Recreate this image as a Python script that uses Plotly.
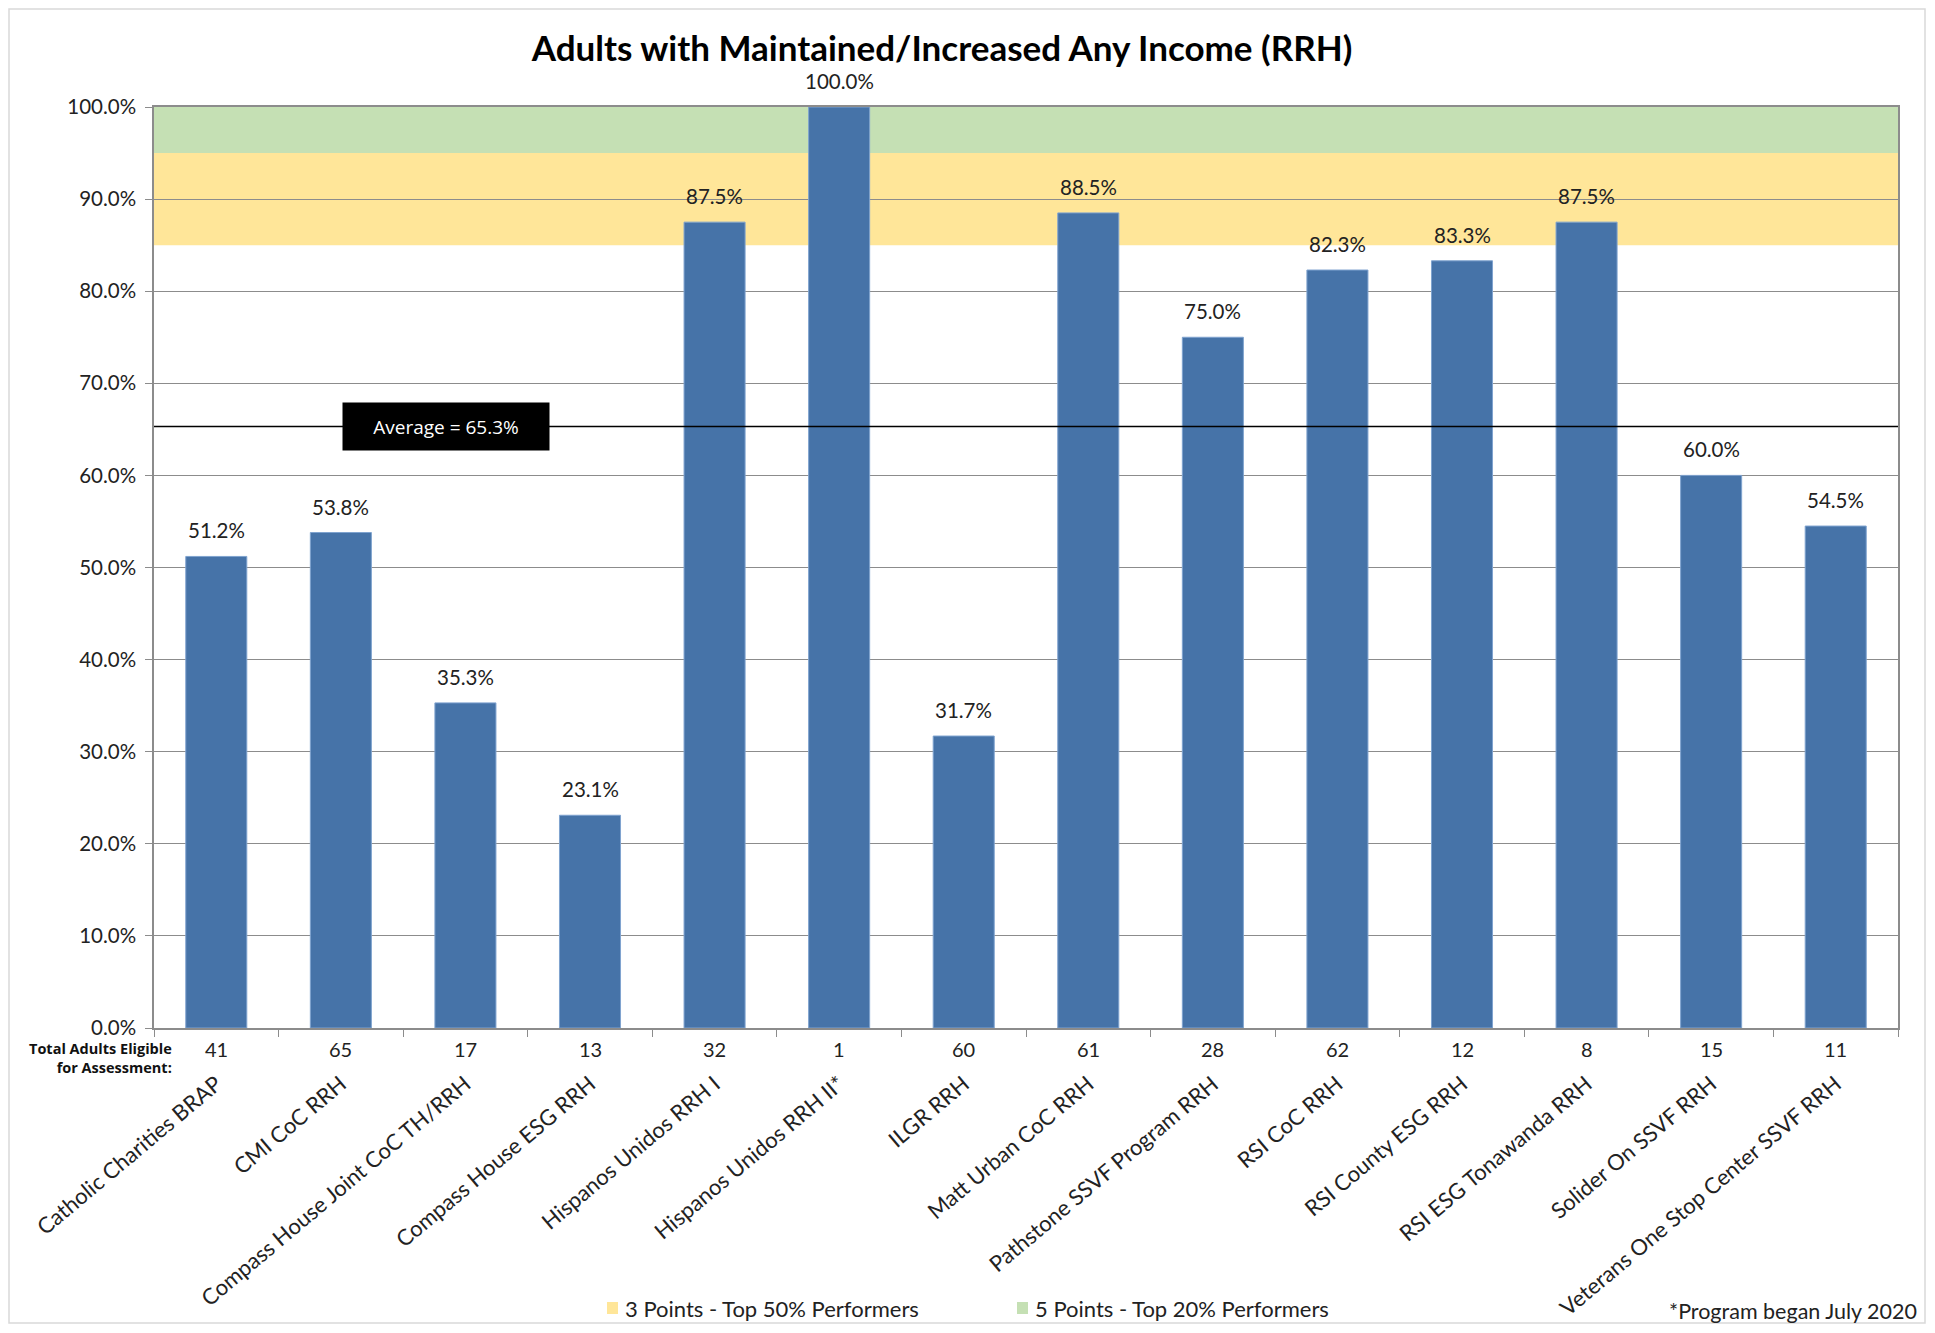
import plotly.graph_objects as go

categories = ["Catholic Charities BRAP", "CMI CoC RRH", "Compass House Joint CoC TH/RRH",
              "Compass House ESG RRH", "Hispanos Unidos RRH I", "Hispanos Unidos RRH II*",
              "ILGR RRH", "Matt Urban CoC RRH", "Pathstone SSVF Program RRH", "RSI CoC RRH",
              "RSI County ESG RRH", "RSI ESG Tonawanda RRH", "Solider On SSVF RRH",
              "Veterans One Stop Center SSVF RRH"]
values = [51.2, 53.8, 35.3, 23.1, 87.5, 100.0, 31.7, 88.5, 75.0, 82.3, 83.3, 87.5, 60.0, 54.5]
counts = [41, 65, 17, 13, 32, 1, 60, 61, 28, 62, 12, 8, 15, 11]
average = 65.3
band_top50 = (85, 95)
band_top20 = (95, 100)
ytick_vals = [0, 10, 20, 30, 40, 50, 60, 70, 80, 90, 100]
ytick_text = [f"{v:.1f}%" for v in ytick_vals]
legend_items = ["3 Points - Top 50% Performers", "5 Points - Top 20% Performers"]

FONT = "Lato, 'Open Sans', sans-serif"
YELLOW = "#FFE699"
GREEN = "#C5E0B4"
BLUE = "#4673A8"

# page size 1935x1333 with 8px body margin -> figure 1919x1317
W, H, OFF = 1919, 1317, 8
# plot area in page pixels
PL, PR, PT, PB = 154, 1898, 107, 1028
PW, PH = PR - PL, PB - PT


def px(xp):
    return (xp - PL) / PW


def py(yp):
    return (PB - yp) / PH


fig = go.Figure()
fig.add_trace(go.Bar(
    x=categories, y=values,
    marker=dict(color=BLUE, line=dict(color="#7FA3CF", width=1)),
    showlegend=False, width=0.49, hoverinfo="x+y",
))
for c, v in zip(categories, values):
    fig.add_annotation(x=c, y=v, xref="x", yref="y", text=f"{v:.1f}%", showarrow=False,
                       yanchor="bottom", yshift=12,
                       font=dict(family=FONT, size=20.5, color="#222"))

fig.add_shape(type="rect", xref="paper", yref="y", x0=0, x1=1, y0=band_top50[0], y1=band_top50[1],
              fillcolor=YELLOW, line_width=0, layer="below")
fig.add_shape(type="rect", xref="paper", yref="y", x0=0, x1=1, y0=band_top20[0], y1=band_top20[1],
              fillcolor=GREEN, line_width=0, layer="below")
fig.add_shape(type="line", xref="paper", yref="y", x0=0, x1=1, y0=average, y1=average,
              line=dict(color="black", width=1.5))
# outer chart border
fig.add_shape(type="rect", xref="paper", yref="paper", x0=px(9), x1=px(1925),
              y0=py(1323), y1=py(9), line=dict(color="#D9D9D9", width=1.5))

fig.add_annotation(xref="paper", yref="y", x=px(446), y=average,
                   text="Average = 65.3%", showarrow=False, bgcolor="black",
                   font=dict(family="'Open Sans', sans-serif", size=19, color="white"),
                   width=204, height=45, xanchor="center", yanchor="middle")

for c, n in zip(categories, counts):
    fig.add_annotation(x=c, y=0, xref="x", yref="paper", text=str(n), showarrow=False,
                       yanchor="top", yshift=-7, font=dict(family=FONT, size=20, color="#222"))
fig.add_annotation(xref="paper", yref="paper", x=px(174), y=py(1058),
                   text="<b>Total Adults Eligible</b><br><b>for Assessment:</b>", showarrow=False,
                   xanchor="right", yanchor="middle", align="right",
                   font=dict(family="'Open Sans', sans-serif", size=14.5, color="#111"))
fig.add_annotation(xref="paper", yref="paper", x=px(1919), y=py(1311),
                   text="*Program began July 2020", showarrow=False, xanchor="right", yanchor="middle",
                   font=dict(family=FONT, size=21.5, color="#222"))

# legend (squares + labels)
for (sx, tx, col, lab) in [(607, 623, YELLOW, legend_items[0]), (1017, 1033, GREEN, legend_items[1])]:
    fig.add_shape(type="rect", xref="paper", yref="paper", x0=px(sx), x1=px(sx + 11),
                  y0=py(1314), y1=py(1302), fillcolor=col, line_width=0)
    fig.add_annotation(xref="paper", yref="paper", x=px(tx), y=py(1308), text=lab, showarrow=False,
                       xanchor="left", yanchor="middle", font=dict(family=FONT, size=22, color="#222"))

fig.update_layout(
    width=W, height=H,
    margin=dict(l=PL - OFF, r=W - (PR - OFF), t=PT - OFF, b=H - (PB - OFF), autoexpand=False),
    paper_bgcolor="white", plot_bgcolor="white",
    title=dict(text="<b>Adults with Maintained/Increased Any Income (RRH)</b>",
               x=(942 - OFF) / W, xanchor="center", y=1 - (49 - OFF) / H, yanchor="middle",
               font=dict(family=FONT, size=35, color="black")),
    bargap=0.5, showlegend=False,
    font=dict(family=FONT),
)
fig.update_yaxes(range=[0, 100], tickvals=ytick_vals, ticktext=ytick_text, automargin=False,
                 showgrid=True, gridcolor="#8C8C8C", gridwidth=1,
                 showline=True, linecolor="#8C8C8C", linewidth=1.5, mirror=True,
                 ticks="outside", ticklen=7, tickcolor="#8C8C8C", ticklabelstandoff=5,
                 tickfont=dict(family=FONT, size=20.5, color="#222"), zeroline=False)
fig.update_xaxes(showline=True, linecolor="#8C8C8C", linewidth=1.5, mirror=True, automargin=False,
                 ticks="outside", ticklen=7, tickcolor="#8C8C8C", tickson="boundaries",
                 tickangle=-40, ticklabelstandoff=33,
                 tickfont=dict(family=FONT, size=22, color="#222"))

fig.write_html("out.html")
